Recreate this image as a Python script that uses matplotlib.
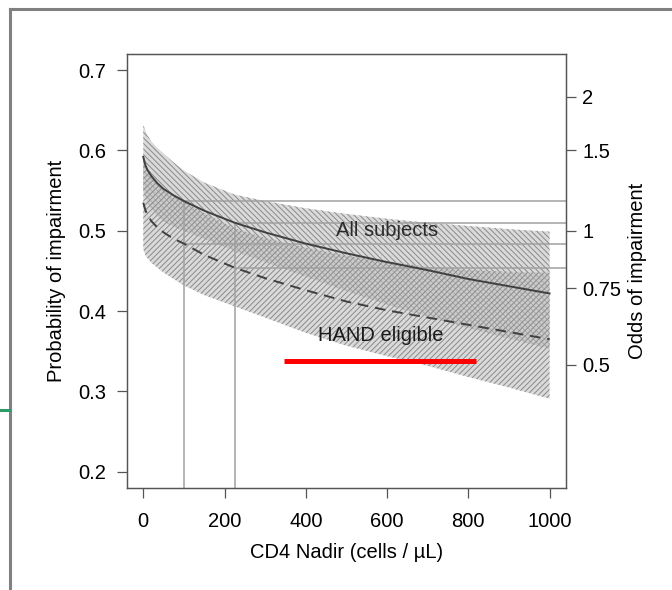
import matplotlib.pyplot as plt
from matplotlib.lines import Line2D

plt.rcParams['font.family'] = ['Liberation Sans', 'DejaVu Sans']
plt.rcParams['hatch.linewidth'] = 0.7

# CD4 nadir grid (cells / uL)
cd4 = [0, 5, 10, 20, 35, 50, 75, 100, 150, 225, 300, 400, 500, 600, 700, 800, 900, 1000]

# All subjects: fitted probability and band
all_fit = [0.592, 0.582, 0.576, 0.568, 0.559, 0.552, 0.544, 0.537, 0.525, 0.510,
           0.498, 0.484, 0.472, 0.461, 0.451, 0.440, 0.431, 0.422]
all_hi = [0.632, 0.625, 0.619, 0.611, 0.603, 0.596, 0.585, 0.575, 0.560, 0.545,
          0.537, 0.528, 0.521, 0.515, 0.510, 0.506, 0.502, 0.499]
all_lo = [0.552, 0.541, 0.535, 0.527, 0.518, 0.511, 0.505, 0.500, 0.490, 0.475,
          0.461, 0.443, 0.425, 0.408, 0.393, 0.379, 0.366, 0.353]

# HAND eligible: fitted probability and band
hand_fit = [0.535, 0.526, 0.520, 0.512, 0.504, 0.498, 0.490, 0.484, 0.470, 0.454,
            0.441, 0.426, 0.412, 0.401, 0.392, 0.383, 0.374, 0.365]
hand_hi = [0.595, 0.584, 0.577, 0.568, 0.558, 0.550, 0.543, 0.537, 0.522, 0.503,
           0.491, 0.479, 0.469, 0.462, 0.455, 0.451, 0.449, 0.448]
hand_lo = [0.477, 0.470, 0.466, 0.460, 0.454, 0.448, 0.440, 0.432, 0.420, 0.406,
           0.392, 0.373, 0.357, 0.344, 0.332, 0.318, 0.305, 0.291]

# reference CD4 values marked with guide lines
marks = [100, 225]

xticks = [0, 200, 400, 600, 800, 1000]
yticks = [0.2, 0.3, 0.4, 0.5, 0.6, 0.7]
odds_ticks = [0.5, 0.75, 1, 1.5, 2]
odds_labels = ['0.5', '0.75', '1', '1.5', '2']

# red annotation bar under "HAND eligible"
red_x = [347, 819]
red_y = [0.338, 0.338]

fs = 14.5

fig = plt.figure(figsize=(6.72, 5.90), dpi=100)
ax = fig.add_axes([0.189, 0.173, 0.653, 0.7355])

ax.fill_between(cd4, all_lo, all_hi, facecolor=(0.76, 0.76, 0.76, 0.6),
                edgecolor='#8a8a8a', hatch='\\\\\\\\\\\\', linewidth=0, zorder=1)
ax.fill_between(cd4, hand_lo, hand_hi, facecolor=(0.76, 0.76, 0.76, 0.6),
                edgecolor='#8a8a8a', hatch='//////', linewidth=0, zorder=1)

xmin, xmax = -40, 1040
ymin, ymax = 0.18, 0.72

# guide lines at the marked CD4 values
for m in marks:
    i = cd4.index(m)
    for curve in (all_fit, hand_fit):
        ax.plot([m, xmax], [curve[i], curve[i]], color='#a0a0a0', lw=1.1, zorder=2)
    ax.plot([m, m], [ymin, all_fit[i]], color='#a0a0a0', lw=1.1, zorder=2)

ax.plot(cd4, all_fit, color='#404040', lw=1.4, zorder=3)
ax.plot(cd4, hand_fit, color='#404040', lw=1.4, dashes=(5.5, 3.5), zorder=3)

ax.text(600, 0.5, 'All subjects', fontsize=fs, color='#2a2a2a',
        ha='center', va='center', zorder=4)
ax.text(585, 0.37, 'HAND eligible', fontsize=fs, color='#1a1a1a',
        ha='center', va='center', zorder=4)
ax.plot(red_x, red_y, color='#ff0000', lw=3.6, solid_capstyle='butt', zorder=5)

ax.set_xlim(xmin, xmax)
ax.set_ylim(ymin, ymax)
ax.set_xticks(xticks)
ax.set_yticks(yticks)
ax.set_yticklabels([str(t) for t in yticks])
ax.tick_params(axis='y', direction='out', length=7, width=0.9, color='#555555',
               labelsize=fs, pad=8)
ax.tick_params(axis='x', direction='out', length=7, width=0.9, color='#555555',
               labelsize=fs, pad=10)
ax.set_xlabel('CD4 Nadir (cells / µL)', fontsize=fs, labelpad=9)
ax.set_ylabel('Probability of impairment', fontsize=fs, labelpad=9)
for s in ax.spines.values():
    s.set_color('#555555')
    s.set_linewidth(0.9)

ax2 = ax.twinx()
ax2.set_ylim(ymin, ymax)
ax2.set_yticks([o / (1 + o) for o in odds_ticks])
ax2.set_yticklabels(odds_labels)
ax2.tick_params(direction='out', length=7, width=0.9, color='#555555',
                labelsize=fs, pad=5)
ax2.set_ylabel('Odds of impairment', fontsize=fs, labelpad=5)
for s in ax2.spines.values():
    s.set_color('#555555')
    s.set_linewidth(0.9)

# page frame and the small green mark at the left edge
fig.add_artist(Line2D([0.0149, 1.0], [0.9847, 0.9847], color='#808080', lw=2.2))
fig.add_artist(Line2D([0.0149, 0.0149], [0.0, 0.9847], color='#808080', lw=2.2))
fig.add_artist(Line2D([0.0, 0.0134], [0.305, 0.305], color='#2e9a68', lw=2.2))

fig.savefig('out.png', dpi=100)
